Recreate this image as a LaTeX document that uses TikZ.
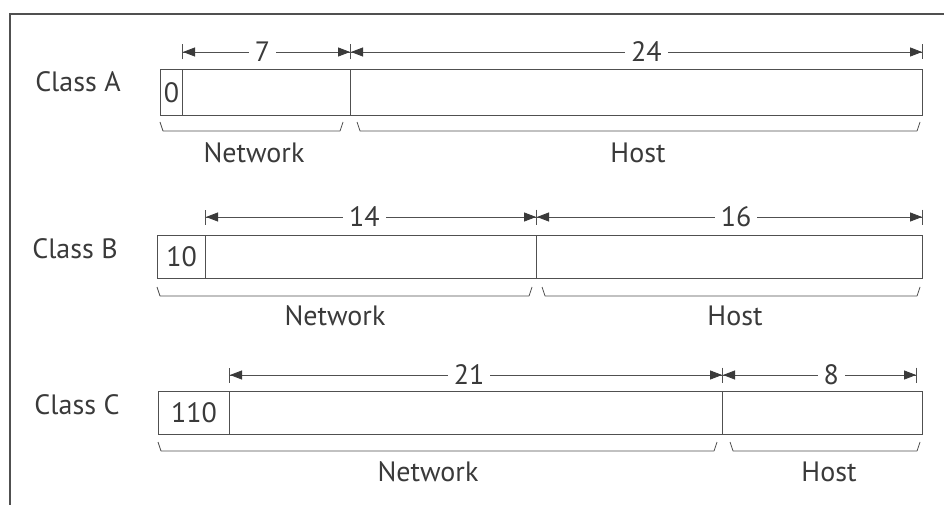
\documentclass[tikz,border=0pt]{standalone}
\usepackage{fontspec}
\setmainfont{PT Sans}
\usetikzlibrary{arrows.meta}
\definecolor{ink}{HTML}{3A3A3A}
\definecolor{rulegray}{HTML}{505050}

% bracket under a field: slanted ticks at both ends joined by a flat line
\newcommand\fieldbracket[3]{%
  \draw[bracketline] (#1,#3) -- ++(3,9) -- ({#2-3},{#3+9}) -- (#2,#3);}

\begin{document}
\begin{tikzpicture}[x=1pt,y=-1pt,
  txt/.style={text=ink, font=\fontsize{28}{32}\selectfont, inner sep=0pt},
  cell/.style={draw=rulegray, line width=1.1pt, inner sep=0pt, anchor=north west,
               text=ink, font=\fontsize{28}{32}\selectfont},
  dimline/.style={draw=rulegray, line width=0.8pt,
    {Bar[width=15pt,line width=1pt]Triangle[length=12pt,width=9pt,color=ink]}-{Triangle[length=12pt,width=9pt,color=ink]Bar[width=15pt,line width=1pt]}},
  num/.style={txt, fill=white, inner xsep=6pt, inner ysep=1pt},
  bracketline/.style={draw=rulegray, line width=0.8pt, line join=round},
  frameline/.style={draw=rulegray, line width=1.1pt}]
\useasboundingbox (0,0) rectangle (944,505);
\draw[frameline] (10,505) -- (10,14) -- (944,14);

% ---- Class A ----
\node[txt] (clA) at (78,82) {Class A};
\node[cell, minimum width=22pt, minimum height=46pt] (aid) at (160,69) {0};
\node[cell, minimum width=168pt, minimum height=46pt] (anet) at (182,69) {};
\node[cell, minimum width=572pt, minimum height=46pt] (ahost) at (350,69) {};
\draw[dimline] ([yshift=17pt]anet.north west) -- node[num,pos=.476] (a7) {7} ([yshift=17pt]anet.north east);
\draw[dimline] ([yshift=17pt]ahost.north west) -- node[num,pos=.517] (a24) {24} ([yshift=17pt]ahost.north east);
\fieldbracket{160}{343}{122}
\fieldbracket{357}{920}{122}
\node[txt] (aNw) at (254,153) {Network};
\node[txt] (aHo) at (638,153) {Host};

% ---- Class B ----
\node[txt] (clB) at (75,249) {Class B};
\node[cell, minimum width=48pt, minimum height=43pt] (bid) at (157,235) {10};
\node[cell, minimum width=331pt, minimum height=43pt] (bnet) at (205,235) {};
\node[cell, minimum width=386pt, minimum height=43pt] (bhost) at (536,235) {};
\draw[dimline] ([yshift=18pt]bnet.north west) -- node[num,pos=.48] (b14) {14} ([yshift=18pt]bnet.north east);
\draw[dimline] ([yshift=18pt]bhost.north west) -- node[num,pos=.517] (b16) {16} ([yshift=18pt]bhost.north east);
\fieldbracket{157}{532}{287}
\fieldbracket{542}{920}{287}
\node[txt] (bNw) at (335,316) {Network};
\node[txt] (bHo) at (735,316) {Host};

% ---- Class C ----
\node[txt] (clC) at (77,405) {Class C};
\node[cell, minimum width=71pt, minimum height=43pt] (cid) at (158,391) {110};
\node[cell, minimum width=493pt, minimum height=43pt] (cnet) at (229,391) {};
\node[cell, minimum width=200pt, minimum height=43pt] (chost) at (722,391) {};
\draw[dimline] ([yshift=16pt]cnet.north west) -- node[num,pos=.486] (c21) {21} ([yshift=16pt]cnet.north east);
\draw[dimline] ([yshift=16pt]chost.north west) -- node[num,pos=.56] (c8) {8} ([xshift=-6pt,yshift=16pt]chost.north east);
\fieldbracket{158}{717}{442}
\fieldbracket{730}{920}{442}
\node[txt] (cNw) at (428,472) {Network};
\node[txt] (cHo) at (829,472) {Host};
\end{tikzpicture}
\end{document}
